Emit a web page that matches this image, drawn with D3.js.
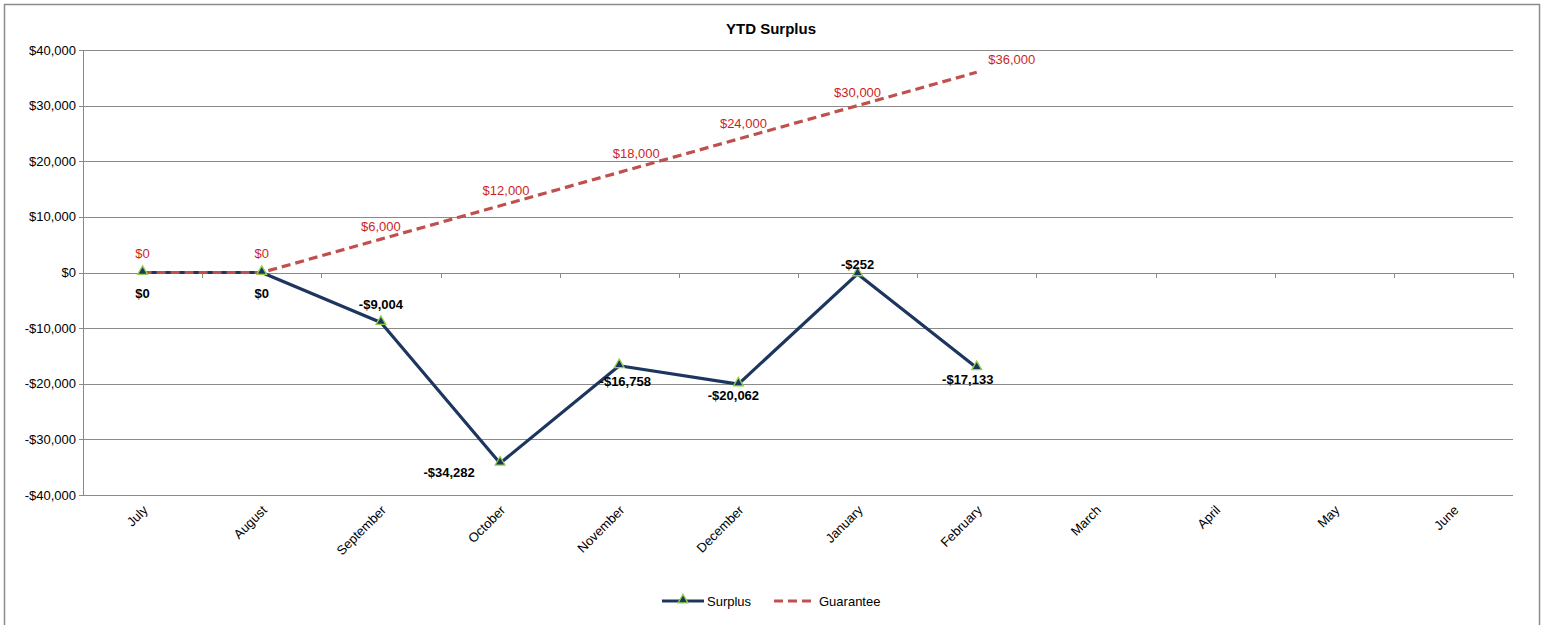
<!DOCTYPE html>
<html>
<head>
<meta charset="utf-8">
<script src="https://cdn.jsdelivr.net/npm/d3@7"></script>
<style>
  body { margin: 0; background: #fff; }
  text { font-family: "Liberation Sans", Arial, sans-serif; }
</style>
</head>
<body>
<div id="chart"></div>
<script>
// Data
const months = ["July", "August", "September", "October", "November", "December",
                "January", "February", "March", "April", "May", "June"];
const surplus = [0, 0, -9004, -34282, -16758, -20062, -252, -17133];
const guarantee = [0, 0, 6000, 12000, 18000, 24000, 30000, 36000];
const yTicks = [-40000, -30000, -20000, -10000, 0, 10000, 20000, 30000, 40000];

// label nudges (pixels) relative to each point
const surplusLabelDx = [0, 0, 0, -51, 6, -5, 0, -9];
const surplusLabelDy = [21, 21, -18, 9, 16, 11, -9, 12];
const guaranteeLabelDx = [0, 0, 0, 6, 17, 5, 0, 35];
const guaranteeLabelDy = [-19, -19, -13, -15, -19, -16, -13, -13];

const width = 1547, height = 625;
const margins = {top: 50, right: 34, bottom: 130, left: 83};

const svg = d3.select("#chart").append("svg")
    .attr("width", width)
    .attr("height", height);

// chart frame
svg.append("rect")
    .attr("x", 4.5).attr("y", 4.5)
    .attr("width", 1535).attr("height", 640)
    .attr("fill", "none")
    .attr("stroke", "#8c8c8c")
    .attr("stroke-width", 1.5);

const x = d3.scaleBand()
    .domain(months)
    .range([margins.left, width - margins.right]);
const cx = d => x(d) + x.bandwidth() / 2;

const y = d3.scaleLinear()
    .domain([-40000, 40000])
    .range([height - margins.bottom, margins.top]);

const fmt = v => (v < 0 ? "-$" : "$") + d3.format(",")(Math.abs(v));

// Gridlines
svg.append("g")
    .selectAll("line")
    .data(yTicks)
    .enter()
    .append("line")
    .attr("x1", margins.left - 4)
    .attr("x2", width - margins.right)
    .attr("y1", d => Math.round(y(d)) + 0.5)
    .attr("y2", d => Math.round(y(d)) + 0.5)
    .attr("stroke", "#8a8a8a")
    .attr("stroke-width", 1);

// y axis line
svg.append("line")
    .attr("x1", margins.left + 0.5).attr("x2", margins.left + 0.5)
    .attr("y1", y(40000)).attr("y2", y(-40000))
    .attr("stroke", "#8a8a8a");

// y tick labels
svg.append("g")
    .selectAll("text")
    .data(yTicks)
    .enter()
    .append("text")
    .attr("x", margins.left - 7)
    .attr("y", d => y(d))
    .attr("dy", "0.35em")
    .attr("text-anchor", "end")
    .attr("font-size", 13)
    .attr("fill", "#000")
    .text(fmt);

// category ticks on the zero line
const bounds = months.map(m => x(m)).concat([width - margins.right]);
svg.append("g")
    .selectAll("line")
    .data(bounds)
    .enter()
    .append("line")
    .attr("x1", d => Math.round(d) + 0.5)
    .attr("x2", d => Math.round(d) + 0.5)
    .attr("y1", Math.round(y(0)))
    .attr("y2", Math.round(y(0)) + 5)
    .attr("stroke", "#8a8a8a");

// category labels
svg.append("g")
    .selectAll("text")
    .data(months)
    .enter()
    .append("text")
    .attr("transform", d => `translate(${cx(d) + 6},${y(-40000) + 16}) rotate(-45)`)
    .attr("text-anchor", "end")
    .attr("font-size", 13)
    .attr("fill", "#000")
    .text(d => d);

// Title
svg.append("text")
    .attr("x", 771)
    .attr("y", 34)
    .attr("text-anchor", "middle")
    .attr("font-size", 15)
    .attr("font-weight", "bold")
    .text("YTD Surplus");

const gData = guarantee.map((v, i) => ({m: months[i], v: v}));
const sData = surplus.map((v, i) => ({m: months[i], v: v}));

const line = d3.line()
    .x(d => cx(d.m))
    .y(d => y(d.v));

// Surplus line
svg.append("path")
    .datum(sData)
    .attr("fill", "none")
    .attr("stroke", "#1c3660")
    .attr("stroke-width", 3.2)
    .attr("stroke-linejoin", "round")
    .attr("d", line);

// Guarantee line (dashed)
svg.append("path")
    .datum(gData)
    .attr("fill", "none")
    .attr("stroke", "#c0504d")
    .attr("stroke-width", 3.2)
    .attr("stroke-dasharray", "9,5")
    .attr("d", line);

// Surplus markers
const tri = d3.symbol().type(d3.symbolTriangle).size(42);
svg.append("g")
    .selectAll("path")
    .data(sData)
    .enter()
    .append("path")
    .attr("d", tri)
    .attr("transform", d => `translate(${cx(d.m)},${y(d.v) - 1})`)
    .attr("fill", "#1c3660")
    .attr("stroke", "#92d050")
    .attr("stroke-width", 1.3);

// Surplus labels
svg.append("g")
    .selectAll("text")
    .data(sData)
    .enter()
    .append("text")
    .attr("x", (d, i) => cx(d.m) + surplusLabelDx[i])
    .attr("y", (d, i) => y(d.v) + surplusLabelDy[i])
    .attr("dy", "0.35em")
    .attr("text-anchor", "middle")
    .attr("font-size", 13)
    .attr("font-weight", "bold")
    .attr("fill", "#000")
    .text(d => fmt(d.v));

// Guarantee labels
svg.append("g")
    .selectAll("text")
    .data(gData)
    .enter()
    .append("text")
    .attr("x", (d, i) => cx(d.m) + guaranteeLabelDx[i])
    .attr("y", (d, i) => y(d.v) + guaranteeLabelDy[i])
    .attr("dy", "0.35em")
    .attr("text-anchor", "middle")
    .attr("font-size", 13)
    .attr("fill", "#cc1f1f")
    .text(d => fmt(d.v));

// Legend
const legend = svg.append("g").attr("transform", "translate(662,601)");
legend.append("line")
    .attr("x1", 0).attr("x2", 42).attr("y1", 0).attr("y2", 0)
    .attr("stroke", "#1c3660").attr("stroke-width", 3.2);
legend.append("path")
    .attr("d", tri)
    .attr("transform", "translate(21,-1)")
    .attr("fill", "#1c3660")
    .attr("stroke", "#92d050")
    .attr("stroke-width", 1.3);
legend.append("text")
    .attr("x", 45).attr("y", 0).attr("dy", "0.35em")
    .attr("font-size", 13)
    .text("Surplus");
legend.append("line")
    .attr("x1", 112).attr("x2", 151).attr("y1", 0).attr("y2", 0)
    .attr("stroke", "#c0504d").attr("stroke-width", 3.2)
    .attr("stroke-dasharray", "9,5");
legend.append("text")
    .attr("x", 157).attr("y", 0).attr("dy", "0.35em")
    .attr("font-size", 13)
    .text("Guarantee");
</script>
</body>
</html>
